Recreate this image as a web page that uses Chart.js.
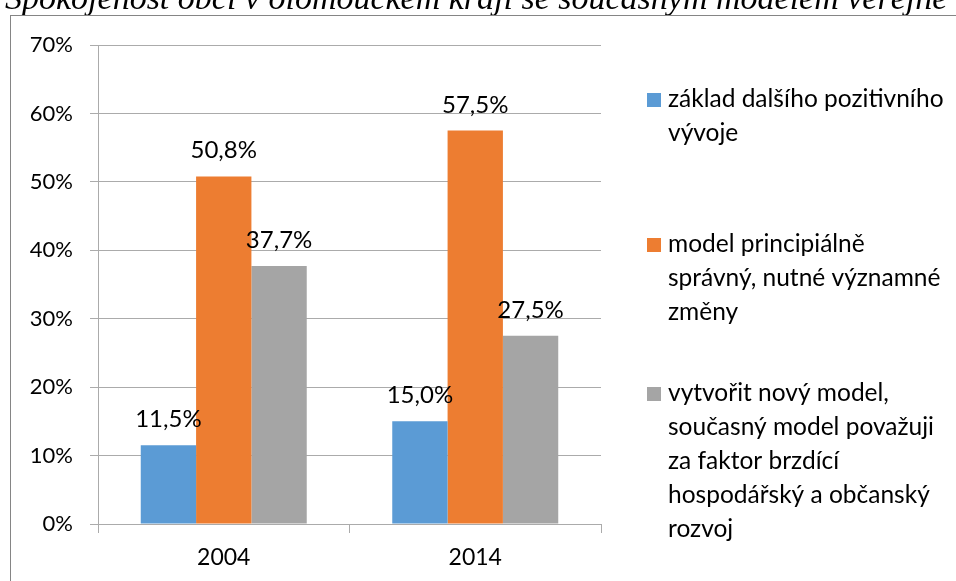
<!DOCTYPE html>
<html>
<head>
<meta charset="utf-8">
<script src="https://cdn.jsdelivr.net/npm/chart.js@4.4.0/dist/chart.umd.min.js"></script>
<style>
  html, body { margin: 0; padding: 0; background: #fff; }
  #wrap { width: 956px; height: 581px; }
</style>
</head>
<body>
<div id="wrap"><canvas id="myChart" width="956" height="581"></canvas></div>
<script>
// chart data
const titleText = "Spokojenost obcí v olomouckém kraji se současným modelem veřejné správy";
const years = ["2004", "2014"];
const seriesNames = [
  "základ dalšího pozitivního vývoje",
  "model principiálně správný, nutné významné změny",
  "vytvořit nový model, současný model považuji za faktor brzdící hospodářský a občanský rozvoj"
];
// legend text broken the same way as in the picture
const legendLines = [
  ["základ dalšího pozitivního", "vývoje"],
  ["model principiálně", "správný, nutné významné", "změny"],
  ["vytvořit nový model,", "současný model považuji", "za faktor brzdící", "hospodářský a občanský", "rozvoj"]
];
const zakladVyvoje = [11.5, 15.0];
const modelZmeny = [50.8, 57.5];
const novyModel = [37.7, 27.5];
const yMax = 70;
const yStep = 10;

const colors = ["#5B9BD5", "#ED7D31", "#A5A5A5"];
const gridColor = "#ababab";
const fontName = "Lato";

function pct(v) {
  return v.toFixed(1).replace(".", ",") + "%";
}

// white page, clipped title on top and the frame round the chart
const framePlugin = {
  id: "frame",
  beforeDraw(chart) {
    const ctx = chart.ctx;
    ctx.save();
    ctx.fillStyle = "#fff";
    ctx.fillRect(0, 0, chart.width, chart.height);
    ctx.fillStyle = "#000";
    ctx.font = 'italic 34px "Liberation Serif"';
    ctx.textBaseline = "alphabetic";
    ctx.textAlign = "left";
    ctx.fillText(titleText, 5, 9);
    ctx.strokeStyle = "#858585";
    ctx.lineWidth = 1;
    ctx.strokeRect(10.5, 15.5, 1000, 1000);
    ctx.restore();
  }
};

// value labels above the bars
const valuePlugin = {
  id: "values",
  afterDatasetsDraw(chart) {
    const ctx = chart.ctx;
    ctx.save();
    ctx.fillStyle = "#000";
    ctx.font = "24px " + fontName;
    ctx.textAlign = "center";
    ctx.textBaseline = "alphabetic";
    chart.data.datasets.forEach((ds, i) => {
      chart.getDatasetMeta(i).data.forEach((bar, j) => {
        ctx.fillText(pct(ds.data[j]), bar.x, bar.y - 18);
      });
    });
    ctx.restore();
  }
};

// legend on the right with wrapped lines
const legendPlugin = {
  id: "sideLegend",
  afterDraw(chart) {
    const ctx = chart.ctx;
    const firstBase = [107, 252, 401];
    const step = 34;
    ctx.save();
    ctx.font = "24.5px " + fontName;
    ctx.textAlign = "left";
    ctx.textBaseline = "alphabetic";
    legendLines.forEach((lines, i) => {
      ctx.fillStyle = colors[i];
      ctx.fillRect(647, firstBase[i] - 14, 14, 14);
      ctx.fillStyle = "#000";
      lines.forEach((t, k) => {
        ctx.fillText(t, 668, firstBase[i] + k * step);
      });
    });
    ctx.restore();
  }
};

const datasets = [zakladVyvoje, modelZmeny, novyModel].map((d, i) => ({
  label: seriesNames[i],
  data: d,
  backgroundColor: colors[i],
  borderWidth: 0,
  barPercentage: 1,
  categoryPercentage: 0.66
}));

let myChart = document.getElementById("myChart").getContext("2d");

let chart = new Chart(myChart, {
  type: "bar",
  data: {
    labels: years,
    datasets: datasets
  },
  options: {
    responsive: false,
    animation: false,
    layout: {
      padding: { top: 45, right: 355, bottom: 0, left: 0 }
    },
    plugins: {
      legend: { display: false },
      title: { display: false },
      tooltip: { enabled: false }
    },
    scales: {
      x: {
        grid: {
          offset: true,
          drawOnChartArea: false,
          drawTicks: true,
          tickLength: 9,
          color: gridColor
        },
        border: { color: gridColor, width: 1 },
        ticks: {
          color: "#000",
          font: { family: fontName, size: 23 },
          padding: 11
        },
        afterFit(scale) { scale.height = 57; }
      },
      y: {
        min: 0,
        max: yMax,
        grid: {
          color: gridColor,
          tickLength: 8,
          drawTicks: true
        },
        border: { color: gridColor, width: 1 },
        ticks: {
          stepSize: yStep,
          color: "#000",
          font: { family: fontName, size: 22 },
          padding: 17,
          callback: v => v + "%"
        },
        afterFit(scale) { scale.width = 98; }
      }
    }
  },
  plugins: [framePlugin, valuePlugin, legendPlugin]
});
</script>
</body>
</html>
